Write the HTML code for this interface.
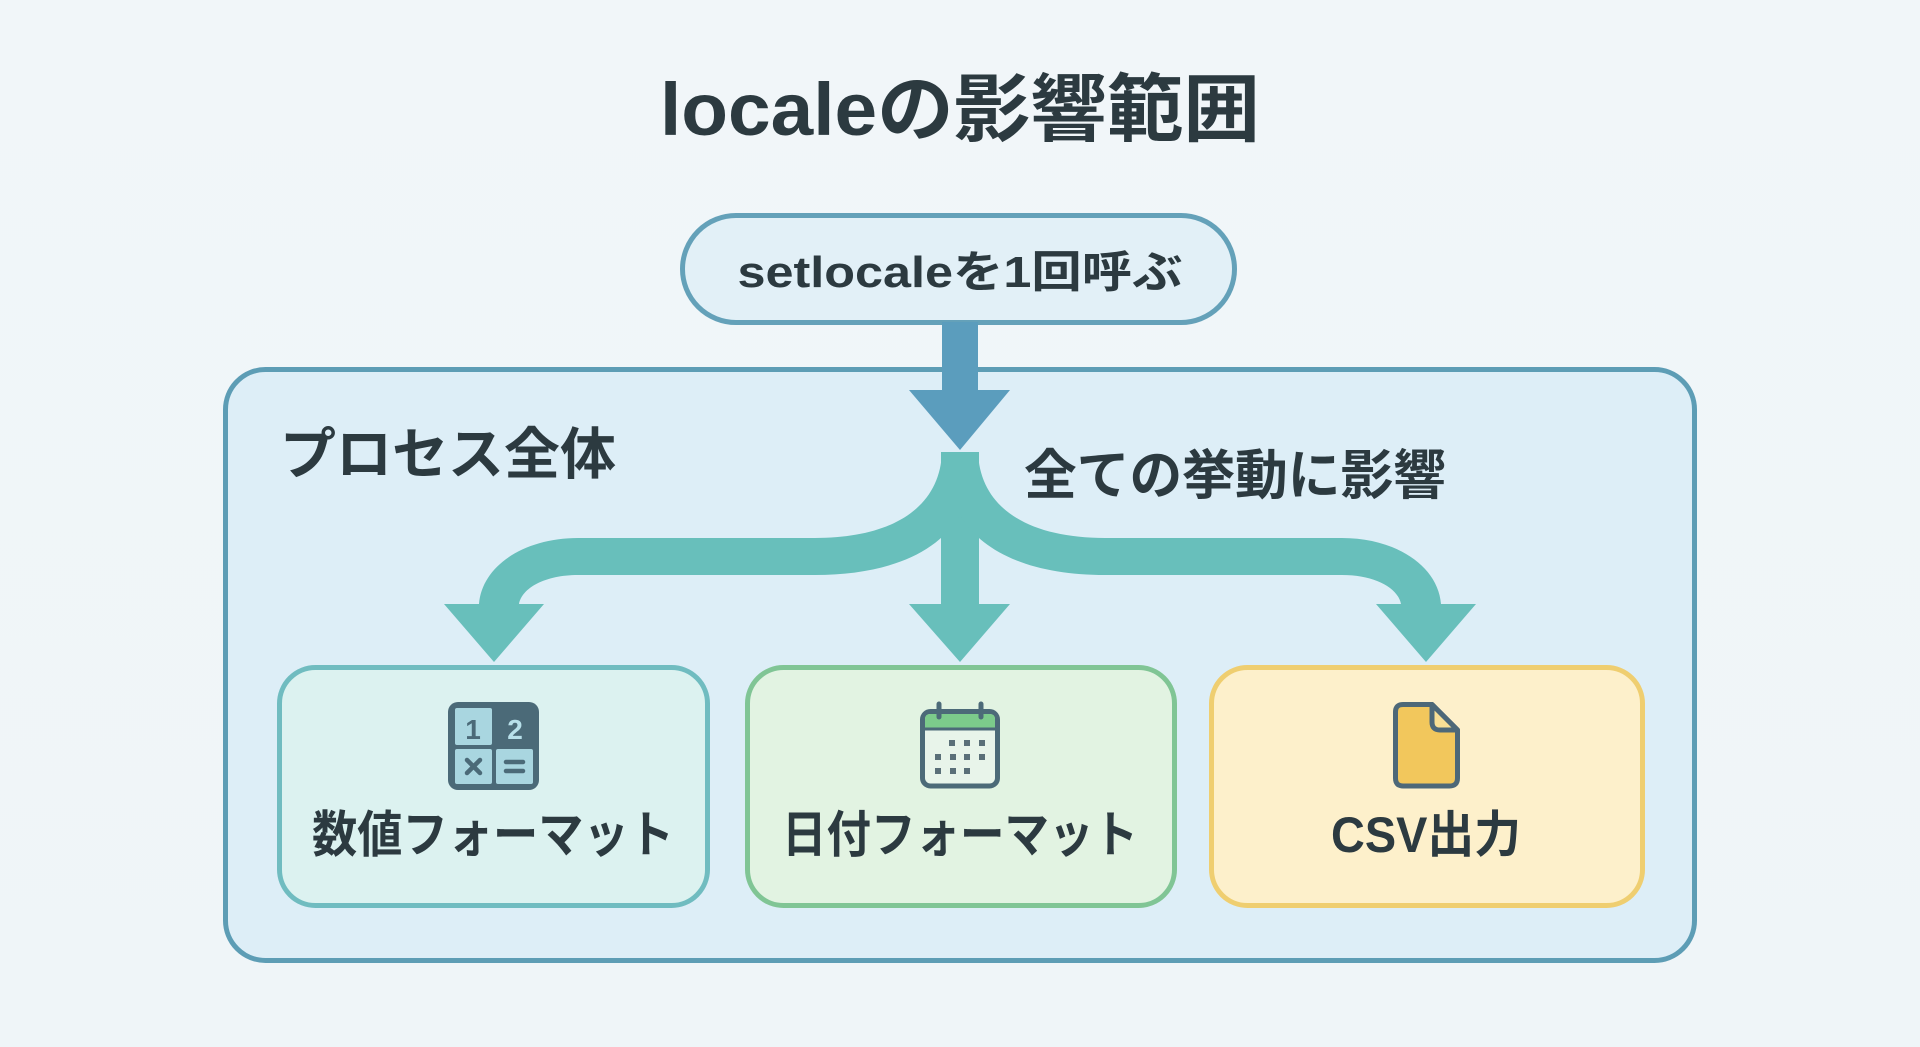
<!DOCTYPE html>
<html><head><meta charset="utf-8"><style>
html,body{margin:0;padding:0;background:#f0f5f8;}
svg{display:block;}
text{font-family:"Liberation Sans","Noto Sans CJK JP",sans-serif;font-weight:700;fill:#2c3a40;}
</style></head><body>
<svg width="1920" height="1047" viewBox="0 0 1920 1047" xmlns="http://www.w3.org/2000/svg">
<defs>
<linearGradient id="bg" x1="0" y1="0" x2="0" y2="1"><stop offset="0" stop-color="#f1f6f9"/><stop offset="1" stop-color="#eff5f8"/></linearGradient>
</defs>
<rect width="1920" height="1047" fill="url(#bg)"/>

<!-- Title -->
<text x="960" y="135" font-size="74" text-anchor="middle" textLength="600" lengthAdjust="spacingAndGlyphs">localeの影響範囲</text>

<!-- Container -->
<rect x="225.5" y="369.5" width="1469" height="591" rx="40" fill="#ddeef7" stroke="#5d9db5" stroke-width="5"/>

<!-- Pill -->
<rect x="682.5" y="215.5" width="552" height="107" rx="53.5" fill="#e2f0f7" stroke="#64a1b9" stroke-width="5"/>
<text x="960" y="287" font-size="44" text-anchor="middle" textLength="445" lengthAdjust="spacingAndGlyphs">setlocaleを1回呼ぶ</text>

<!-- Blue arrow -->
<rect x="942" y="322" width="36" height="70" fill="#5b9dbd"/>
<polygon points="909,390 1010,390 960,450" fill="#5b9dbd"/>

<!-- Labels in container -->
<text x="280" y="474" font-size="56" textLength="336" lengthAdjust="spacingAndGlyphs">プロセス全体</text>
<text x="1024" y="494" font-size="54" textLength="422" lengthAdjust="spacingAndGlyphs">全ての挙動に影響</text>

<!-- Teal branching arrows -->
<g fill="#68bfbb">
  <rect x="941" y="452" width="38" height="156"/>
  <polygon points="909,604 1010,604 960,662"/>
  <path id="lb" d="M942 452 C940 508 892 538 815 538 L578 538 C524 538 482 566 479 604 L444 604 L494 662 L544 604 L519 604 C522 588 545 575 578 575 L815 575 C882 575 936 556 960 515 L960 452 Z"/>
  <use href="#lb" transform="translate(1920,0) scale(-1,1)"/>
</g>

<!-- Box 1 -->
<rect x="279.5" y="667.5" width="428" height="238" rx="36" fill="#dcf2f0" stroke="#70bcc0" stroke-width="5"/>
<!-- calculator icon -->
<rect x="448" y="702" width="91" height="88" rx="10" fill="#4b6a78"/>
<rect x="455" y="708" width="37" height="37" rx="2" fill="#a9d6e0"/>
<rect x="455" y="749" width="37" height="35" rx="2" fill="#a9d6e0"/>
<rect x="496" y="749" width="37" height="35" rx="2" fill="#a9d6e0"/>
<text x="473" y="739" font-size="28" text-anchor="middle" style="fill:#4b6a78">1</text>
<text x="515" y="739" font-size="28" text-anchor="middle" style="fill:#b8e0ea">2</text>
<path d="M467 760 L480 773 M480 760 L467 773" stroke="#4b6a78" stroke-width="4.5" stroke-linecap="round"/>
<path d="M506 762 H523 M506 771 H523" stroke="#4b6a78" stroke-width="4.5" stroke-linecap="round"/>
<text x="493" y="852" font-size="50" text-anchor="middle" textLength="362" lengthAdjust="spacingAndGlyphs">数値フォーマット</text>

<!-- Box 2 -->
<rect x="747.5" y="667.5" width="427" height="238" rx="36" fill="#e2f3e2" stroke="#80c595" stroke-width="5"/>
<!-- calendar icon -->
<rect x="922.5" y="711.5" width="75" height="74.5" rx="8" fill="#e8f4ea" stroke="#4c6a78" stroke-width="5"/>
<path d="M925 728 V719 Q925 714 930 714 H990 Q995 714 995 719 V728 Z" fill="#7ccb8b"/>
<line x1="925" y1="729" x2="995" y2="729" stroke="#4c6a78" stroke-width="3"/>
<line x1="939" y1="704" x2="939" y2="717" stroke="#4c6a78" stroke-width="5" stroke-linecap="round"/>
<line x1="981" y1="704" x2="981" y2="717" stroke="#4c6a78" stroke-width="5" stroke-linecap="round"/>
<g fill="#5a6f78">
  <rect x="949" y="740" width="6" height="6"/><rect x="964" y="740" width="6" height="6"/><rect x="979" y="740" width="6" height="6"/>
  <rect x="935" y="754" width="6" height="6"/><rect x="950" y="754" width="6" height="6"/><rect x="964" y="754" width="6" height="6"/><rect x="979" y="754" width="6" height="6"/>
  <rect x="935" y="768" width="6" height="6"/><rect x="950" y="768" width="6" height="6"/><rect x="964" y="768" width="6" height="6"/>
</g>
<text x="960" y="852" font-size="50" text-anchor="middle" textLength="356" lengthAdjust="spacingAndGlyphs">日付フォーマット</text>

<!-- Box 3 -->
<rect x="1211.5" y="667.5" width="431" height="238" rx="36" fill="#fdf0cb" stroke="#efce70" stroke-width="5"/>
<!-- file icon -->
<path d="M1403 704.5 H1432 L1457.5 730 V778 Q1457.5 786 1449.5 786 H1403 Q1395.5 786 1395.5 778 V712 Q1395.5 704.5 1403 704.5 Z" fill="#f2c75c" stroke="#4d6878" stroke-width="5" stroke-linejoin="round"/>
<path d="M1432 704.5 V722 Q1432 730 1440 730 H1457.5 Z" fill="#f8df95" stroke="#4d6878" stroke-width="5" stroke-linejoin="round"/>
<text x="1426" y="852" font-size="50" text-anchor="middle" textLength="190" lengthAdjust="spacingAndGlyphs">CSV出力</text>
</svg>
</body></html>
